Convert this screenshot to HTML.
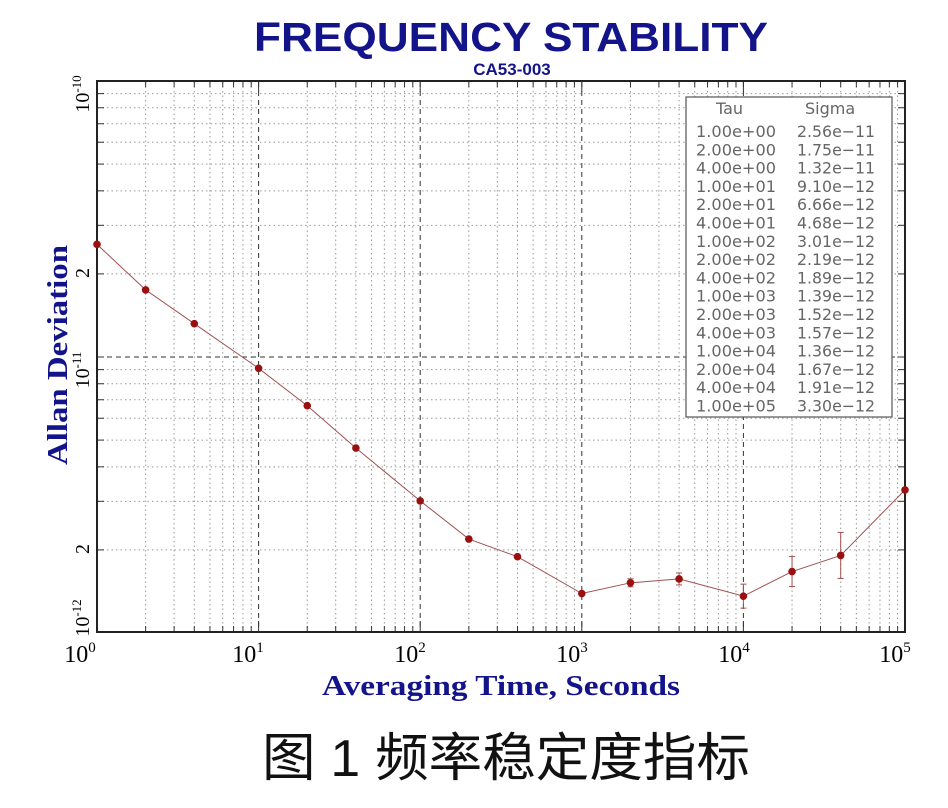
<!DOCTYPE html>
<html><head><meta charset="utf-8"><style>
body{margin:0;background:#fff;width:948px;height:803px;overflow:hidden}
</style></head><body>
<svg id="s" width="948" height="803" xmlns="http://www.w3.org/2000/svg">
<text x="254" y="51" textLength="514" lengthAdjust="spacingAndGlyphs" font-family="Liberation Sans, sans-serif" font-weight="bold" font-size="41" fill="#14148a">FREQUENCY STABILITY</text>
<text x="512" y="75" text-anchor="middle" font-family="Liberation Sans, sans-serif" font-weight="bold" font-size="17" fill="#14148a">CA53-003</text>
<g id="grid"></g>
<rect x="97" y="81" width="808" height="551" fill="none" stroke="#222" stroke-width="2"/>
<g id="data"></g>
<rect x="686" y="97" width="206" height="320" fill="#fff" stroke="#555" stroke-width="1.2"/>
<g id="leg" font-family="DejaVu Sans, sans-serif" font-size="16" fill="#666"></g>
<g font-family="Liberation Serif, serif" font-size="24" fill="#000">
<text x="80" y="662" text-anchor="middle">10<tspan font-size="15" dy="-10">0</tspan></text>
<text x="248" y="662" text-anchor="middle">10<tspan font-size="15" dy="-10">1</tspan></text>
<text x="410" y="662" text-anchor="middle">10<tspan font-size="15" dy="-10">2</tspan></text>
<text x="572" y="662" text-anchor="middle">10<tspan font-size="15" dy="-10">3</tspan></text>
<text x="734" y="662" text-anchor="middle">10<tspan font-size="15" dy="-10">4</tspan></text>
<text x="895" y="662" text-anchor="middle">10<tspan font-size="15" dy="-10">5</tspan></text>
</g>
<g font-family="Liberation Serif, serif" font-size="20" fill="#000">
<text transform="translate(89,94) rotate(-90)" text-anchor="middle">10<tspan font-size="13" dy="-8">-10</tspan></text>
<text transform="translate(89,273) rotate(-90)" text-anchor="middle">2</text>
<text transform="translate(89,370) rotate(-90)" text-anchor="middle">10<tspan font-size="13" dy="-8">-11</tspan></text>
<text transform="translate(89,549) rotate(-90)" text-anchor="middle">2</text>
<text transform="translate(89,618) rotate(-90)" text-anchor="middle">10<tspan font-size="13" dy="-8">-12</tspan></text>
</g>
<text transform="translate(67,465) rotate(-90)" textLength="220" lengthAdjust="spacingAndGlyphs" font-family="Liberation Serif, serif" font-weight="bold" font-size="28" fill="#14148a">Allan Deviation</text>
<text x="322" y="695" textLength="358" lengthAdjust="spacingAndGlyphs" font-family="Liberation Serif, serif" font-weight="bold" font-size="28" fill="#14148a">Averaging Time, Seconds</text>
<text x="262" y="776" textLength="488" lengthAdjust="spacingAndGlyphs" font-family="Liberation Sans, 'Noto Sans CJK SC', sans-serif" font-size="52" fill="#111">图 1  频率稳定度指标</text>
</svg>
<script>
var NS="http://www.w3.org/2000/svg";
function el(p,t,a){var e=document.createElementNS(NS,t);for(var k in a)e.setAttribute(k,a[k]);p.appendChild(e);return e;}
var X0=97,DX=161.6,Y1=357,DY=276;
function fx(t){return X0+DX*Math.log10(t);}
function fy(s){return Y1-DY*Math.log10(s/1e-11);}
var g=document.getElementById('grid');
for(var d=0;d<5;d++){for(var m=1;m<10;m++){var x=fx(m*Math.pow(10,d));if(m==1&&d==0)continue;
 el(g,'line',{x1:x,y1:82,x2:x,y2:631,stroke:m==1?'#333':'#999','stroke-width':1,'stroke-dasharray':m==1?'5,4':'1.5,3'});
 el(g,'line',{x1:x,y1:631,x2:x,y2:m==1?621:626,stroke:'#333'});el(g,'line',{x1:x,y1:82,x2:x,y2:m==1?92:87,stroke:'#333'});}}
for(var d=-12;d<-10;d++){for(var m=1;m<10;m++){var y=fy(m*Math.pow(10,d));if(y<82||y>631)continue;
 el(g,'line',{x1:98,y1:y,x2:904,y2:y,stroke:m==1?'#333':'#999','stroke-width':1,'stroke-dasharray':m==1?'5,4':'1.5,3'});
 el(g,'line',{x1:98,y1:y,x2:104,y2:y,stroke:'#333'});el(g,'line',{x1:898,y1:y,x2:904,y2:y,stroke:'#333'});}}
var D=[[1,2.56],[2,1.75],[4,1.32],[10,.91],[20,.666],[40,.468],[100,.301],[200,.219],[400,.189],[1e3,.139],[2e3,.152],[4e3,.157],[1e4,.136],[2e4,.167],[4e4,.191],[1e5,.33]];
var E={2000:4,4000:6,10000:12,20000:15,40000:23};
var dg=document.getElementById('data');var pts=D.map(function(p){return fx(p[0])+','+fy(p[1]*1e-11)}).join(' ');
el(dg,'polyline',{points:pts,fill:'none',stroke:'#a05050','stroke-width':1});
D.forEach(function(p){var x=fx(p[0]),y=fy(p[1]*1e-11);var e=E[p[0]];
 if(e){el(dg,'line',{x1:x,y1:y-e,x2:x,y2:y+e,stroke:'#a05050'});el(dg,'line',{x1:x-3,y1:y-e,x2:x+3,y2:y-e,stroke:'#a05050'});el(dg,'line',{x1:x-3,y1:y+e,x2:x+3,y2:y+e,stroke:'#a05050'});}
 el(dg,'circle',{cx:x,cy:y,r:3.8,fill:'#9a1010'});});
var L=document.getElementById('leg');
var t=el(L,'text',{x:716,y:114});t.textContent='Tau';t=el(L,'text',{x:805,y:114});t.textContent='Sigma';
var TA=['1.00e+00','2.00e+00','4.00e+00','1.00e+01','2.00e+01','4.00e+01','1.00e+02','2.00e+02','4.00e+02','1.00e+03','2.00e+03','4.00e+03','1.00e+04','2.00e+04','4.00e+04','1.00e+05'];
var SI=['2.56e-11','1.75e-11','1.32e-11','9.10e-12','6.66e-12','4.68e-12','3.01e-12','2.19e-12','1.89e-12','1.39e-12','1.52e-12','1.57e-12','1.36e-12','1.67e-12','1.91e-12','3.30e-12'];
for(var i=0;i<16;i++){var y=137+i*18.3;t=el(L,'text',{x:696,y:y,textLength:80,lengthAdjust:'spacingAndGlyphs'});t.textContent=TA[i];t=el(L,'text',{x:797,y:y,textLength:78,lengthAdjust:'spacingAndGlyphs'});t.textContent=SI[i].replace('-','−');}
</script>
</body></html>
